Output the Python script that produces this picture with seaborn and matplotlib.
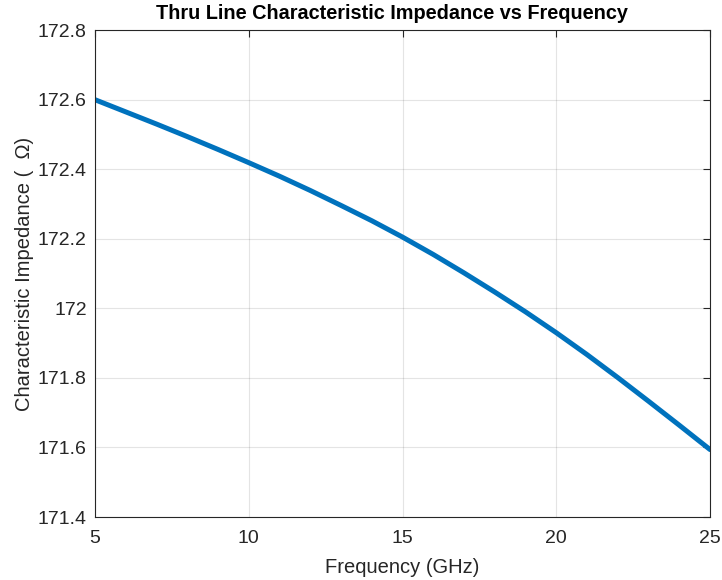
import numpy as np
import pandas as pd
import matplotlib
matplotlib.use("Agg")
import matplotlib.pyplot as plt
import seaborn as sns

freq_ghz = [5, 6, 7, 8, 9, 10, 11, 12, 13, 14, 15, 16, 17, 18, 19, 20, 21, 22, 23, 24, 25]
impedance_ohm = [172.600, 172.565, 172.530, 172.494, 172.457, 172.419, 172.380, 172.339,
                 172.296, 172.252, 172.205, 172.155, 172.102, 172.047, 171.990, 171.930,
                 171.867, 171.801, 171.733, 171.664, 171.594]
x_ticks = [5, 10, 15, 20, 25]
y_ticks = [171.4, 171.6, 171.8, 172.0, 172.2, 172.4, 172.6, 172.8]
y_tick_labels = ["171.4", "171.6", "171.8", "172", "172.2", "172.4", "172.6", "172.8"]

sns.set_theme(style="white")
plt.rcParams['font.family'] = ['Liberation Sans', 'DejaVu Sans']

df = pd.DataFrame({"Frequency": freq_ghz, "Z0": impedance_ohm})

fig = plt.figure(figsize=(7.22, 5.80), dpi=100)
ax = fig.add_axes([0.1316, 0.1086, 0.8518, 0.8394])

sns.lineplot(data=df, x="Frequency", y="Z0", ax=ax, color="#0072BD", linewidth=3.6)

ax.set_xlim(5, 25)
ax.set_ylim(171.4, 172.8)
ax.set_xticks(x_ticks)
ax.set_yticks(y_ticks)
ax.set_yticklabels(y_tick_labels)

ax.grid(True, color="#262626", alpha=0.12, linewidth=0.8)
ax.set_axisbelow(True)
for s in ax.spines.values():
    s.set_visible(True)
    s.set_color("#262626")
    s.set_linewidth(0.8)

ax.tick_params(axis="both", which="both", direction="in", length=5, width=0.8,
               colors="#262626", labelsize=14, top=True, right=True,
               labelcolor="#262626")
ax.tick_params(axis="x", pad=9)
ax.tick_params(axis="y", pad=6)

ax.set_xlabel("Frequency (GHz)", fontsize=14.5, color="#262626", labelpad=8)
ax.set_ylabel("Characteristic Impedance (  \u03a9)", fontsize=14.5, color="#262626", labelpad=3)
ax.set_title("Thru Line Characteristic Impedance vs Frequency", fontsize=14.3,
             fontweight="bold", color="black", pad=8, x=0.483)

fig.savefig("out.png", dpi=100)
